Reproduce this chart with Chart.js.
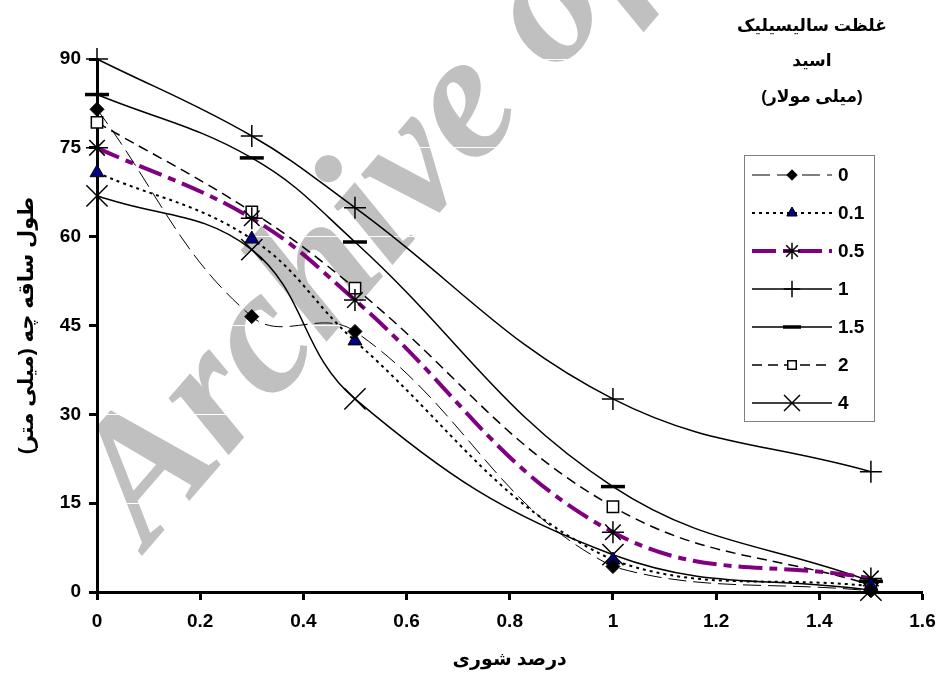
<!DOCTYPE html>
<html>
<head>
<meta charset="utf-8">
<script src="https://cdn.jsdelivr.net/npm/chart.js@4"></script>
<style>
html, body { margin: 0; padding: 0; background: #fff; }
#wrap { width: 939px; height: 681px; }
</style>
</head>
<body>
<div id="wrap"><canvas id="shootChart" width="939" height="681"></canvas></div>
<script>
// salinity (%) on x, shoot length (mm) on y, one series per salicylic acid level
const salinity = [0, 0.3, 0.5, 1, 1.5];
const sa0   = [81.5, 46.5, 44.0, 4.3, 0.2];
const sa01  = [70.8, 59.6, 42.4, 5.4, 1.0];
const sa05  = [75.0, 63.1, 49.3, 10.1, 2.3];
const sa1   = [90.0, 77.0, 64.9, 32.6, 20.3];
const sa15  = [84.0, 73.3, 59.1, 17.8, 1.8];
const sa2   = [79.3, 64.2, 51.3, 14.4, 1.2];
const sa4   = [66.9, 57.8, 32.6, 6.3, 0.3];
const seriesLabels = ['0', '0.1', '0.5', '1', '1.5', '2', '4'];
const xTicks = [0, 0.2, 0.4, 0.6, 0.8, 1, 1.2, 1.4, 1.6];
const yTicks = [0, 15, 30, 45, 60, 75, 90];

const legendTitle = ['غلظت سالیسیلیک', 'اسید', '(میلی مولار)'];
const xTitle = 'درصد شوری';
const yTitle = 'طول ساقه چه (میلی متر)';
const watermark = 'Archive of SID';

const RLM = '\u200F';
const FONT = '"Liberation Sans", "DejaVu Sans", Arial, sans-serif';

const allSeries = [sa0, sa01, sa05, sa1, sa15, sa2, sa4];
const looks = [
    { color: '#000', width: 1,   dash: [18, 7],        point: 'rectRot',  r: 7,  fill: '#000',    pbw: 1 },
    { color: '#000', width: 2,   dash: [3, 4],         point: 'triangle', r: 8,  fill: '#000080', pbw: 1 },
    { color: '#800080', width: 4, dash: [24, 7, 8, 7], point: 'star',     r: 11, fill: '#000',    pbw: 1.5 },
    { color: '#000', width: 1.5, dash: [],             point: 'cross',    r: 11, fill: '#000',    pbw: 1.5 },
    { color: '#000', width: 1.5, dash: [],             point: 'line',     r: 12, fill: '#000',    pbw: 3.5 },
    { color: '#000', width: 1.5, dash: [10, 6],        point: 'rect',     r: 8,  fill: '#fff',    pbw: 1.5 },
    { color: '#000', width: 1.5, dash: [],             point: 'crossRot', r: 15, fill: '#000',    pbw: 1.5 }
];

const datasets = allSeries.map((vals, i) => ({
    label: seriesLabels[i],
    data: salinity.map((x, j) => ({ x: x, y: vals[j] })),
    borderColor: looks[i].color,
    borderWidth: looks[i].width,
    borderDash: looks[i].dash,
    tension: 0.4,
    fill: false,
    clip: false,
    pointStyle: looks[i].point,
    pointRadius: looks[i].r,
    pointBackgroundColor: looks[i].fill,
    pointBorderColor: '#000',
    pointBorderWidth: looks[i].pbw
}));

// watermark under everything, legend + its title on top
const overlayPlugin = {
    id: 'overlay',
    beforeDraw(chart) {
        const ctx = chart.ctx;
        ctx.save();
        ctx.translate(148, 549);
        ctx.rotate(-0.86);
        ctx.font = 'italic bold 180px "Liberation Serif", "DejaVu Serif", serif';
        ctx.fillStyle = '#c0c0c0';
        ctx.textBaseline = 'alphabetic';
        ctx.fillText(watermark, 0, 0);
        ctx.restore();
    },
    afterDraw(chart) {
        const ctx = chart.ctx;
        ctx.save();
        ctx.fillStyle = '#000';
        ctx.textAlign = 'center';
        ctx.textBaseline = 'middle';
        ctx.font = 'bold 17px ' + FONT;
        const titleY = [26, 61, 97];
        legendTitle.forEach((t, i) => ctx.fillText(RLM + t + RLM, 812, titleY[i]));

        ctx.strokeStyle = '#808080';
        ctx.lineWidth = 1;
        ctx.strokeRect(744.5, 155.5, 130, 266);

        chart.data.datasets.forEach((ds, i) => {
            const y = 175 + i * 38;
            ctx.save();
            ctx.strokeStyle = ds.borderColor;
            ctx.lineWidth = ds.borderWidth;
            ctx.setLineDash(ds.borderDash);
            ctx.beginPath();
            ctx.moveTo(752, y);
            ctx.lineTo(832, y);
            ctx.stroke();
            ctx.restore();

            ctx.save();
            ctx.fillStyle = ds.pointBackgroundColor;
            ctx.strokeStyle = ds.pointBorderColor;
            ctx.lineWidth = ds.pointBorderWidth;
            Chart.helpers.drawPoint(ctx, {
                pointStyle: ds.pointStyle,
                radius: ds.pointRadius * 0.75,
                borderWidth: ds.pointBorderWidth,
                rotation: 0
            }, 792, y);
            ctx.restore();

            ctx.textAlign = 'left';
            ctx.font = 'bold 19px ' + FONT;
            ctx.fillText(ds.label, 838, y + 1);
        });
        ctx.restore();
    }
};

new Chart(document.getElementById('shootChart'), {
    type: 'line',
    data: { datasets: datasets },
    options: {
        responsive: false,
        animation: false,
        devicePixelRatio: 1,
        layout: { padding: { top: 59, right: 0, left: 0, bottom: 0 } },
        plugins: {
            legend: { display: false },
            tooltip: { enabled: false }
        },
        scales: {
            x: {
                type: 'linear',
                min: 0,
                max: 1.6,
                afterFit: (s) => { s.height = 89; s.paddingRight = 15; s.paddingLeft = 0; },
                afterBuildTicks: (s) => { s.ticks = xTicks.map(v => ({ value: v })); },
                grid: { display: true, drawOnChartArea: false, tickLength: 8, tickWidth: 3, tickColor: '#000' },
                border: { display: true, color: '#000', width: 3 },
                ticks: {
                    padding: 10,
                    color: '#000',
                    font: { family: FONT, size: 19, weight: 'bold' },
                    callback: (v) => String(Number(v.toFixed(1)))
                },
                title: {
                    display: true,
                    text: RLM + xTitle + RLM,
                    color: '#000',
                    font: { family: FONT, size: 19, weight: 'bold' },
                    padding: { top: 0, bottom: 10 }
                }
            },
            y: {
                min: 0,
                max: 90,
                afterFit: (s) => { s.width = 97; },
                afterBuildTicks: (s) => { s.ticks = yTicks.map(v => ({ value: v })); },
                grid: { color: '#fff', lineWidth: 1, tickLength: 8, tickWidth: 3, tickColor: '#000' },
                border: { display: true, color: '#000', width: 3 },
                ticks: {
                    padding: 8,
                    color: '#000',
                    font: { family: FONT, size: 19, weight: 'bold' }
                },
                title: {
                    display: true,
                    text: RLM + yTitle + RLM,
                    color: '#000',
                    font: { family: FONT, size: 21, weight: 'bold' },
                    padding: { top: 15, bottom: 0 }
                }
            }
        }
    },
    plugins: [overlayPlugin]
});
</script>
</body>
</html>
